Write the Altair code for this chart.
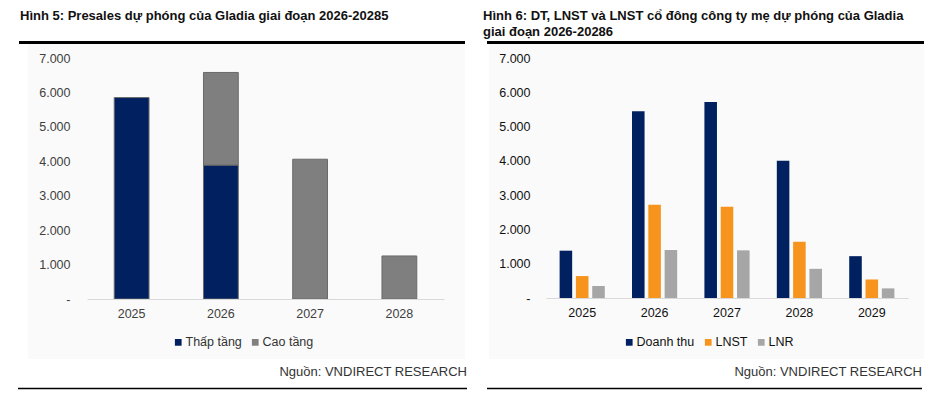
import altair as alt
import pandas as pd

# ---------- data ----------
years_left = ["2025", "2026", "2027", "2028"]
thap_tang = [5850, 3890, 0, 0]
cao_tang = [0, 2690, 4060, 1250]
left_series = ["Thấp tầng", "Cao tầng"]

years_right = ["2025", "2026", "2027", "2028", "2029"]
doanh_thu = [1380, 5450, 5720, 4000, 1220]
lnst = [640, 2720, 2660, 1640, 540]
lnr = [350, 1400, 1390, 850, 280]
right_series = ["Doanh thu", "LNST", "LNR"]

title_left = "Hình 5: Presales dự phóng của Gladia giai đoạn 2026-20285"
title_right_1 = "Hình 6: DT, LNST và LNST cổ đông công ty mẹ dự phóng của Gladia"
title_right_2 = "giai đoạn 2026-20286"
source_text = "Nguồn: VNDIRECT RESEARCH"

FONT = "Liberation Sans"
NAVY = "#002060"

rows = []
for i, y in enumerate(years_left):
    for s, vals, o in ((left_series[0], thap_tang, 0), (left_series[1], cao_tang, 1)):
        if vals[i] > 0:
            rows.append({"year": y, "series": s, "value": vals[i], "ord": o})
df_left = pd.DataFrame(rows)

rows = []
for i, y in enumerate(years_right):
    for s, vals in zip(right_series, (doanh_thu, lnst, lnr)):
        rows.append({"year": y, "series": s, "value": vals[i]})
df_right = pd.DataFrame(rows)

one = pd.DataFrame({"a": [0]})

ylabel = "datum.value == 0 ? '-' : replace(format(datum.value, ','), ',', '.')"


def decorations(x_left, bg_left, bg_right, line_left, line_right,
                src_right, bot_left, bot_right, titles):
    layers = []
    layers.append(alt.Chart(one).mark_rect(color="#fafafa").encode(
        x=alt.value(bg_left), x2=alt.value(bg_right),
        y=alt.value(-14), y2=alt.value(301)))
    layers.append(alt.Chart(one).mark_rule(color="black", strokeWidth=3).encode(
        x=alt.value(line_left), x2=alt.value(line_right), y=alt.value(-15.5)))
    layers.append(alt.Chart(one).mark_rule(color="black", strokeWidth=1.5).encode(
        x=alt.value(bot_left), x2=alt.value(bot_right), y=alt.value(330.5)))
    layers.append(alt.Chart(one).mark_text(
        align="right", baseline="middle", font=FONT, fontSize=13, color="#333333").encode(
        x=alt.value(src_right), y=alt.value(314), text=alt.value(source_text)))
    for t, ty in titles:
        layers.append(alt.Chart(one).mark_text(
            align="left", baseline="middle", font=FONT, fontSize=13,
            fontWeight="bold", color="#111111").encode(
            x=alt.value(x_left), y=alt.value(ty), text=alt.value(t)))
    return layers


def x_axis(color):
    return alt.Axis(labelAngle=0, ticks=False, domainColor="#d9d9d9",
                    labelPadding=8, labelFontSize=12.5, labelColor=color,
                    labelFont=FONT, title=None, zindex=1)


def y_axis(color, pad):
    return alt.Axis(values=list(range(0, 7001, 1000)), labelExpr=ylabel, ticks=False,
                    domain=False, grid=False, labelPadding=pad, labelFontSize=12.5,
                    labelColor=color, labelFont=FONT, title=None, zindex=1)


def legend(x, color):
    return alt.Legend(orient="none", legendX=x, legendY=278,
                      direction="horizontal", title=None,
                      symbolType="square", symbolSize=45,
                      symbolStrokeWidth=0, labelFontSize=12.5,
                      labelFont=FONT, labelColor=color,
                      columnPadding=7, labelOffset=1)


# ---------- left panel ----------
left_bars = alt.Chart(df_left).mark_bar(stroke="#6a6a6a", strokeWidth=1).encode(
    x=alt.X("year:N", sort=years_left,
            scale=alt.Scale(paddingInner=0.61, paddingOuter=0.305),
            axis=x_axis("#404040")),
    y=alt.Y("value:Q", stack="zero", scale=alt.Scale(domain=[0, 7000], nice=False),
            axis=y_axis("#404040", 17)),
    color=alt.Color("series:N",
                    scale=alt.Scale(domain=left_series, range=[NAVY, "#7f7f7f"]),
                    legend=legend(85, "#333333")),
    order=alt.Order("ord:Q"),
)

left = alt.layer(
    *decorations(-67, -59, 378, -68, 378, 380, -69, 380, [(title_left, -42)]),
    left_bars,
).properties(width=357, height=241)

# ---------- right panel ----------
right_bars = alt.Chart(df_right).mark_bar().encode(
    x=alt.X("year:N", sort=years_right,
            scale=alt.Scale(paddingInner=0.376, paddingOuter=0.188),
            axis=x_axis("#111111")),
    xOffset=alt.XOffset("series:N", sort=right_series,
                        scale=alt.Scale(paddingInner=0.23, paddingOuter=0)),
    y=alt.Y("value:Q", scale=alt.Scale(domain=[0, 7000], nice=False),
            axis=y_axis("#111111", 16)),
    color=alt.Color("series:N",
                    scale=alt.Scale(domain=right_series,
                                    range=[NAVY, "#f7941d", "#a6a6a6"]),
                    legend=legend(77, "#111111")),
)

right = alt.layer(
    *decorations(-63, -57, 378, -59, 378, 376, -59, 376,
                 [(title_right_1, -42), (title_right_2, -26)]),
    right_bars,
).properties(width=362, height=240)

chart = alt.hconcat(left, right, spacing=13).resolve_scale(
    color="independent", x="independent", y="independent"
).properties(
    padding={"left": 8, "top": 1, "right": 0, "bottom": 0}
).configure_view(stroke=None).configure(font=FONT)

chart.save("out.html", embed_options={"renderer": "svg", "actions": False})
